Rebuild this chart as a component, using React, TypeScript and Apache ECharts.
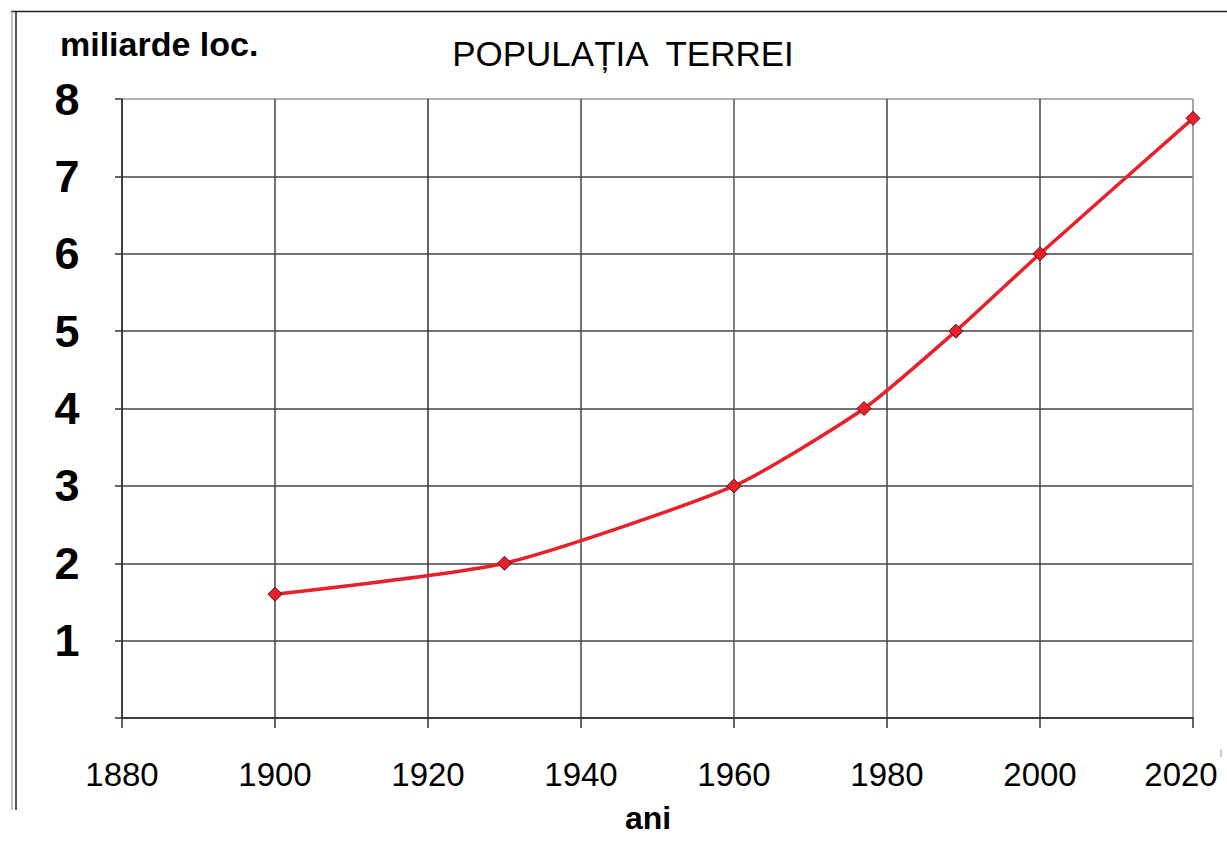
import React, { useEffect, useRef } from "react";
import * as echarts from "echarts";

const title = "POPULAȚIA  TERREI";
const yAxisTitle = "miliarde loc.";
const xAxisTitle = "ani";
const years = [1900, 1930, 1960, 1977, 1989, 2000, 2020];
const population = [1.6, 2, 3, 4, 5, 6, 7.75];
const xMin = 1880;
const xMax = 2020;
const xStep = 20;
const yMin = 0;
const yMax = 8;
const yStep = 1;

export default function App() {
  const ref = useRef<HTMLDivElement>(null);
  useEffect(() => {
    if (!ref.current) return;
    document.body.style.margin = "0";
    document.body.style.overflow = "hidden";
    document.documentElement.style.overflow = "hidden";
    const chart = echarts.init(ref.current, null, { renderer: "svg", width: 1227, height: 843 });
    const font = "'Liberation Sans', Arial, sans-serif";
    const data = years.map((y, i) => [y, population[i]]);
    chart.setOption({
      animation: false,
      backgroundColor: "#ffffff",
      textStyle: { fontFamily: font },
      grid: { left: 122, top: 99, right: 34, bottom: 125, containLabel: false, outerBoundsMode: "none" },
      title: {
        text: title,
        left: 618,
        top: 31,
        textAlign: "center",
        textStyle: { fontFamily: font, fontSize: 35, fontWeight: "normal", color: "#000" },
      },
      graphic: [
        { type: "line", shape: { x1: 11, y1: 11.5, x2: 1227, y2: 11.5 }, style: { stroke: "#222", lineWidth: 1.5 } },
        { type: "line", shape: { x1: 12, y1: 11, x2: 12, y2: 810 }, style: { stroke: "#888", lineWidth: 1 } },
        { type: "line", shape: { x1: 16, y1: 11, x2: 16, y2: 810 }, style: { stroke: "#222", lineWidth: 1.5 } },
        { type: "line", shape: { x1: 1221, y1: 749, x2: 1221, y2: 757 }, style: { stroke: "#999", lineWidth: 1 } },
        {
          type: "text",
          left: 60,
          top: 27,
          style: { text: yAxisTitle, fontFamily: font, fontSize: 34, fontWeight: "bold", fill: "#000" },
        },
        {
          type: "text",
          left: 625,
          top: 802,
          style: { text: xAxisTitle, fontFamily: font, fontSize: 32, fontWeight: "bold", fill: "#000" },
        },
      ],
      xAxis: {
        type: "value",
        min: xMin,
        max: xMax,
        interval: xStep,
        axisLine: { show: true, lineStyle: { color: "#333", width: 1.5 } },
        axisTick: { show: true, inside: false, length: 10, lineStyle: { color: "#333", width: 1.5 } },
        axisLabel: {
          show: true,
          margin: 40,
          fontFamily: font,
          fontSize: 33,
          lineHeight: 33,
          color: "#000",
          formatter: (v: number) => (v === xMax ? "{last|" + v + "}" : String(v)),
          rich: { last: { fontFamily: font, fontSize: 33, lineHeight: 33, color: "#000", padding: [0, 24, 0, 0] } },
        },
        splitLine: {
          show: true,
          lineStyle: { color: ["#333", "#444", "#333", "#444", "#555", "#444", "#444", "#888"], width: 1.5 },
        },
      },
      yAxis: {
        type: "value",
        min: yMin,
        max: yMax,
        interval: yStep,
        axisLine: { show: true, lineStyle: { color: "#333", width: 1.5 } },
        axisTick: { show: true, inside: false, length: 7, lineStyle: { color: "#333", width: 1.5 } },
        axisLabel: {
          show: true,
          margin: 55,
          align: "center",
          fontFamily: font,
          fontSize: 45,
          fontWeight: "bold",
          color: "#000",
          padding: [0, 0, 12, 0],
          formatter: (v: number) => (v === 0 ? "" : String(v)),
        },
        splitLine: {
          show: true,
          lineStyle: { color: ["#333", "#444", "#444", "#444", "#444", "#444", "#444", "#444", "#999"], width: 1.5 },
        },
      },
      series: [
        {
          type: "line",
          data,
          smooth: 0.2,
          symbol: "diamond",
          symbolSize: 14,
          lineStyle: { color: "#e8202a", width: 3.5 },
          itemStyle: { color: "#e8202a", borderColor: "#5a1010", borderWidth: 1 },
          z: 5,
        },
      ],
    });
    return () => chart.dispose();
  }, []);
  return <div ref={ref} style={{ position: "absolute", left: 0, top: 0, width: 1227, height: 843 }} />;
}
